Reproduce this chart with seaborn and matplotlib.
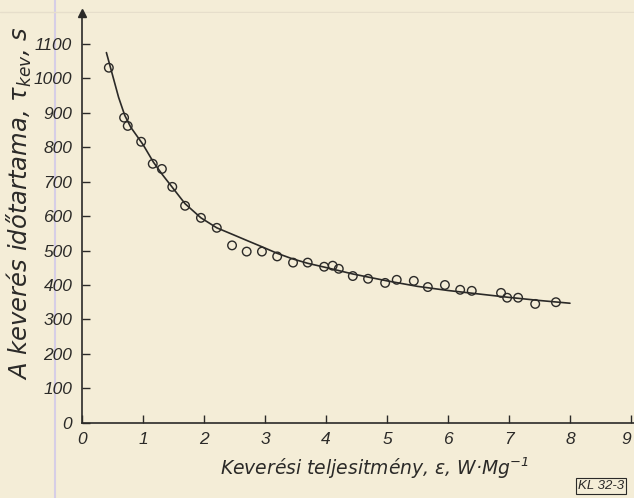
import numpy as np
import pandas as pd
import matplotlib
matplotlib.use("Agg")
import matplotlib.pyplot as plt
import seaborn as sns
from matplotlib.lines import Line2D

# ----------------------- Data
# measured points
power_pts = [0.44, 0.69, 0.75, 0.97, 1.16, 1.31, 1.48, 1.69, 1.95, 2.21,
             2.46, 2.70, 2.95, 3.20, 3.46, 3.70, 3.97, 4.11, 4.21, 4.44,
             4.69, 4.97, 5.16, 5.44, 5.67, 5.95, 6.20, 6.39, 6.87, 6.97,
             7.15, 7.43, 7.77]
time_pts = [1031, 886, 862, 816, 752, 737, 685, 630, 595, 566,
            515, 497, 497, 483, 465, 465, 453, 456, 447, 426,
            418, 406, 415, 412, 394, 400, 386, 383, 377, 363,
            363, 345, 350]

# fitted curve as drawn in the figure
curve_x = [0.40, 0.50, 0.60, 0.70, 0.80, 0.90, 1.00, 1.17, 1.32, 1.47,
           1.69, 1.95, 2.21, 2.48, 2.72, 2.95, 3.20, 3.45, 3.70, 3.97,
           4.44, 5.00, 5.50, 6.00, 6.50, 7.00, 7.50, 8.00]
curve_y = [1075, 1010, 945, 893, 858, 833, 808, 757, 720, 686,
           636, 595, 566, 546, 528, 511, 492, 476, 463, 452,
           432, 412, 396, 384, 374, 364, 355, 347]

x_ticks = list(range(0, 10))
y_ticks = list(range(0, 1200, 100))

paper = "#f4edd7"
ink = "#2b2a28"

# ----------------------- Style
sns.set_style("ticks")
plt.rcParams["font.family"] = ["Liberation Sans", "DejaVu Sans"]
plt.rcParams["font.style"] = "italic"
plt.rcParams["mathtext.fontset"] = "dejavusans"
plt.rcParams["text.color"] = ink

df_pts = pd.DataFrame({"E": power_pts, "t": time_pts})
df_curve = pd.DataFrame({"E": curve_x, "t": curve_y})

fig = plt.figure(figsize=(6.34, 4.98), dpi=100, facecolor=paper)
ax = fig.add_axes([82 / 634, 75.3 / 498, 552 / 634, 409.7 / 498])
ax.set_facecolor(paper)

# scan artefacts: page edge and a faint ruled line (behind everything)
fig.add_artist(Line2D([55 / 634, 55 / 634], [0, 1], color="#d6cee6", lw=1.5, zorder=-5))
fig.add_artist(Line2D([0, 1], [1 - 12 / 498, 1 - 12 / 498], color="#e6decb", lw=1, zorder=-5))

sns.lineplot(data=df_curve, x="E", y="t", color=ink, linewidth=1.2,
             sort=False, errorbar=None, ax=ax)
sns.scatterplot(data=df_pts, x="E", y="t", marker="o", s=38,
                facecolor="none", edgecolor=ink, linewidth=1.0, ax=ax, zorder=3)

ax.set_xlim(0, 9.05)
ax.set_ylim(0, 1190)
ax.set_xticks(x_ticks)
ax.set_yticks(y_ticks)
ax.set_xticklabels([str(v) for v in x_ticks])
ax.set_yticklabels([str(v) for v in y_ticks])
ax.get_xticklabels()[-1].set_horizontalalignment("right")

for side in ["top", "right"]:
    ax.spines[side].set_visible(False)
for side in ["left", "bottom"]:
    ax.spines[side].set_color(ink)
    ax.spines[side].set_linewidth(1.2)

ax.tick_params(axis="x", direction="in", length=6, width=1, color=ink,
               labelsize=12.5, pad=7, labelcolor=ink)
ax.tick_params(axis="y", direction="in", length=6, width=1, color=ink,
               labelsize=12.5, pad=7, labelcolor=ink)

# arrow at top of the y axis
ax.plot([0], [1190], marker="^", markersize=6, color=ink, clip_on=False)

ax.set_xlabel("Keverési teljesitmény, ε, W·Mg$^{-1}$", fontsize=13.5, color=ink,
              family="DejaVu Sans")
ax.set_ylabel(r"A keverés időtartama, $\tau_{kev}$, s", fontsize=17.5, color=ink,
              family="DejaVu Sans")
ax.xaxis.set_label_coords(0.53, -0.079)
ax.yaxis.set_label_coords(-0.087, 0.535)

fig.text(601 / 634, 1 - 486 / 498, "KL 32-3", fontsize=9.5, ha="center", va="center",
         color=ink, bbox=dict(boxstyle="square,pad=0.15", fc="none", ec=ink, lw=0.8))

fig.savefig("out.png", dpi=100, facecolor=paper)
